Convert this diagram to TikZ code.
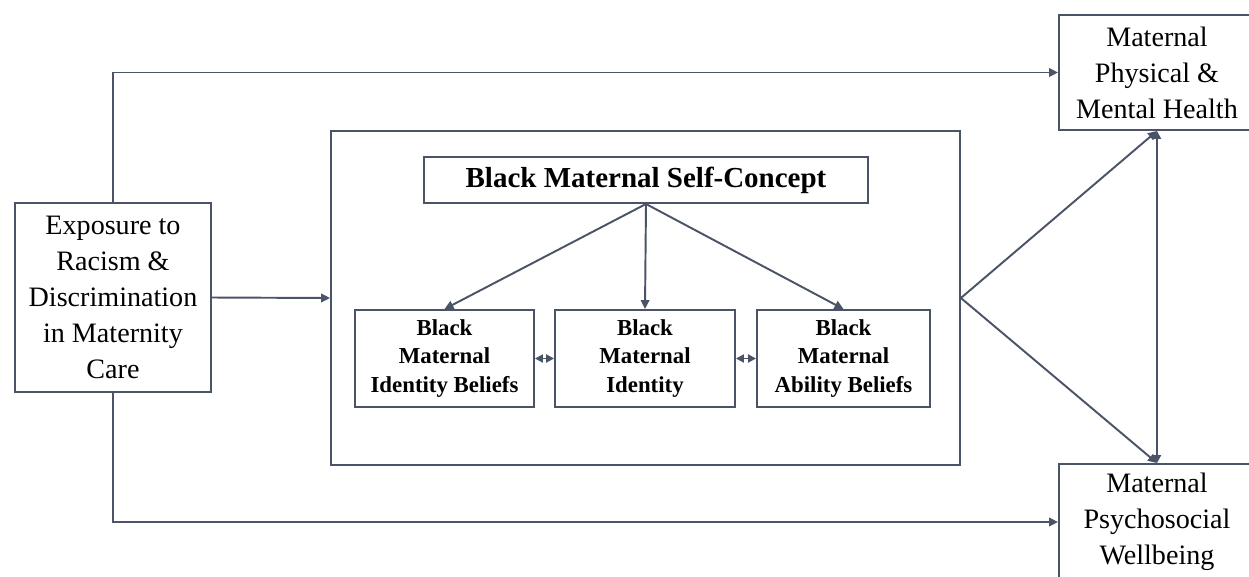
\documentclass[tikz,border=0pt]{standalone}
\usepackage{fontspec}
\setmainfont{Liberation Serif}
\usepackage{tikz}
\usetikzlibrary{arrows.meta}
\definecolor{MyGray}{HTML}{4A5466}

\begin{document}
\begin{tikzpicture}[x=0.02cm,y=-0.02cm,
    box/.style={draw=MyGray,line width=1.1pt,align=center,inner sep=2pt},
    plainbox/.style={box,font=\fontsize{16}{20.5}\selectfont},
    boldbox/.style={box,font=\fontsize{13}{16}\selectfont\bfseries},
    link/.style={MyGray,line width=1.1pt,-{Triangle[length=1.8mm,width=1.7mm]}},
    twoway/.style={MyGray,line width=1.1pt,{Triangle[length=1.6mm,width=1.6mm]}-{Triangle[length=1.6mm,width=1.6mm]}}]
                \clip (0,0) rectangle (1249,576);
                \fill[white] (0,0) rectangle (1249,576);

                \node[plainbox,minimum width=3.92cm,minimum height=3.78cm] (expo) at (113,297.5) {Exposure to\\Racism \&\\Discrimination\\in Maternity\\Care};
                \node[plainbox,minimum width=3.92cm,minimum height=2.3cm] (health) at (1157,72.5) {Maternal\\Physical \&\\Mental Health};
                \node[plainbox,minimum width=3.92cm,minimum height=2.32cm] (wellbeing) at (1157,522) {Maternal\\Psychosocial\\Wellbeing};

                \node[box,minimum width=12.58cm,minimum height=6.68cm] (selfbox) at (645.5,298) {};
                \node[box,minimum width=8.88cm,minimum height=0.92cm,font=\fontsize{16.5}{20}\selectfont\bfseries] (concept) at (646,180) {Black Maternal Self-Concept};

                \node[boldbox,minimum width=3.58cm,minimum height=1.94cm] (idbelief) at (444.5,358.5) {Black\\Maternal\\Identity Beliefs};
                \node[boldbox,minimum width=3.6cm,minimum height=1.94cm] (ident) at (645,358.5) {Black\\Maternal\\Identity};
                \node[boldbox,minimum width=3.46cm,minimum height=1.94cm] (ability) at (843.5,358.5) {Black\\Maternal\\Ability Beliefs};

                \draw[link] (expo.north) |- (health.west);
                \draw[link] (expo.south) |- (wellbeing.west);
                \draw[link] (expo.east) -- (selfbox.west);

                \draw[link] (selfbox.east) -- (health.south);
                \draw[link] (selfbox.east) -- (wellbeing.north);
                \draw[twoway] (health.south) -- (wellbeing.north);

                \foreach \b in {idbelief,ident,ability} {
                    \draw[link] (concept.south) -- (\b.north);
                }
                \draw[twoway] (idbelief.east) -- (ident.west);
                \draw[twoway] (ident.east) -- (ability.west);
            \end{tikzpicture}
\end{document}
